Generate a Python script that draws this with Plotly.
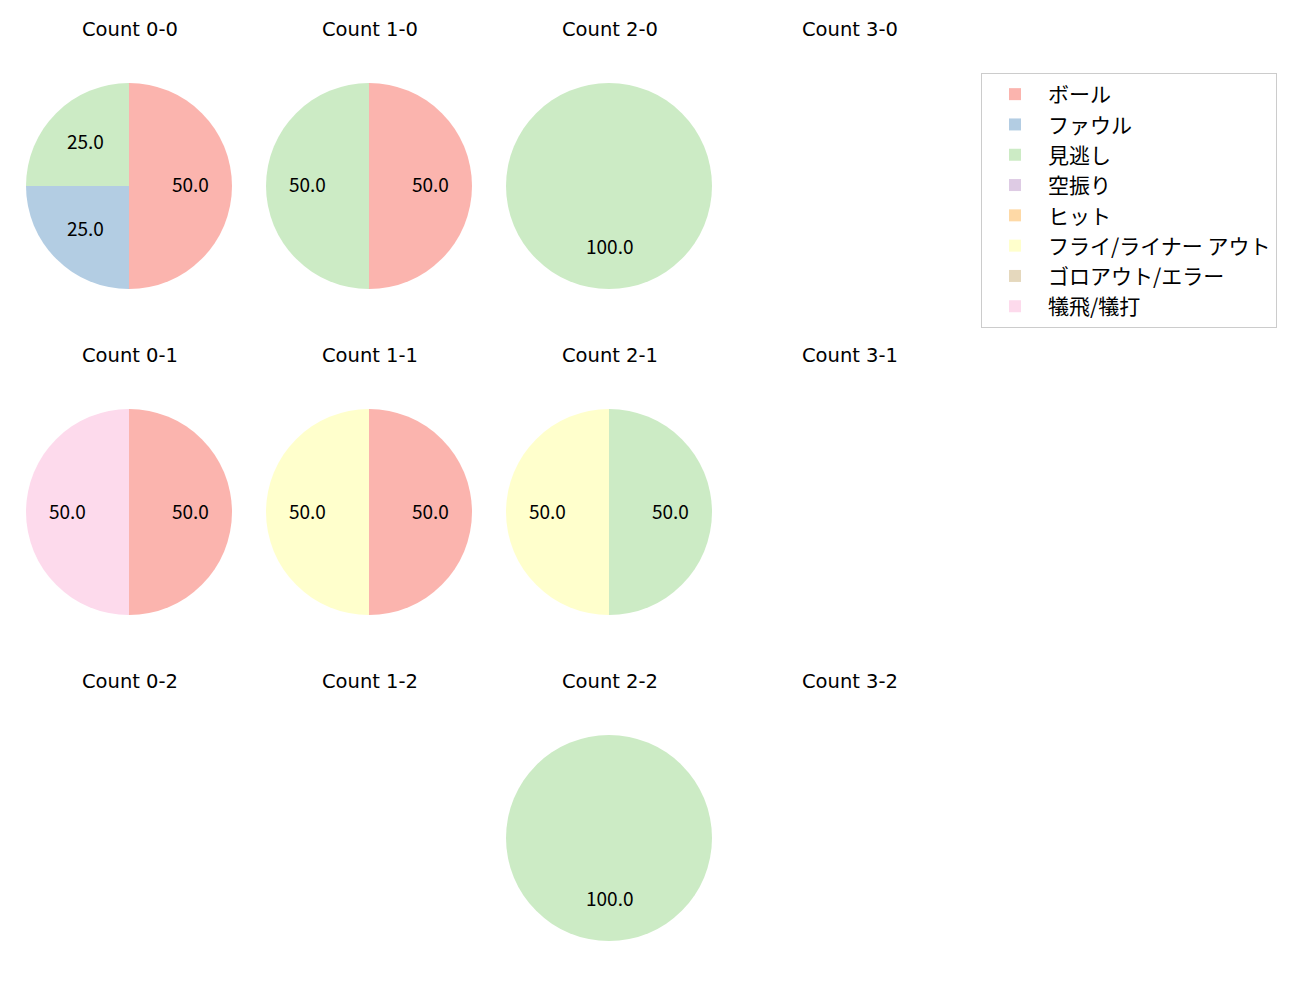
import math
import plotly.graph_objects as go

# ---- data ----
labels = ["ボール", "ファウル", "見逃し", "空振り", "ヒット",
          "フライ/ライナー アウト", "ゴロアウト/エラー", "犠飛/犠打"]
colors = ["#fbb4ae", "#b3cde3", "#ccebc5", "#decbe4", "#fed9a6",
          "#ffffcc", "#e5d8bd", "#fddaec"]

# grid order: rows = strikes 0..2, cols = balls 0..3
count_titles = ["Count 0-0", "Count 1-0", "Count 2-0", "Count 3-0",
                "Count 0-1", "Count 1-1", "Count 2-1", "Count 3-1",
                "Count 0-2", "Count 1-2", "Count 2-2", "Count 3-2"]
# percentage of each result per count (same order as count_titles)
ball        = [50, 50, 0, 0, 50, 50, 0, 0, 0, 0, 0, 0]
foul        = [25, 0, 0, 0, 0, 0, 0, 0, 0, 0, 0, 0]
called_k    = [25, 50, 100, 0, 0, 0, 50, 0, 0, 0, 100, 0]
swing_k     = [0, 0, 0, 0, 0, 0, 0, 0, 0, 0, 0, 0]
hit         = [0, 0, 0, 0, 0, 0, 0, 0, 0, 0, 0, 0]
fly_out     = [0, 0, 0, 0, 0, 50, 50, 0, 0, 0, 0, 0]
ground_out  = [0, 0, 0, 0, 0, 0, 0, 0, 0, 0, 0, 0]
sacrifice   = [0, 0, 0, 0, 50, 0, 0, 0, 0, 0, 0, 0]
series = [ball, foul, called_k, swing_k, hit, fly_out, ground_out, sacrifice]

# ---- layout geometry (pixels) ----
W, H = 1300, 1000
col_cx = [129, 369, 609, 849]
row_cy = [186, 512, 838]
R = 103
title_offset = 157
FONT = "Noto Sans CJK JP"
TITLE_FONT = "DejaVu Sans"

fig = go.Figure()
annotations = []
legend_done = False
for idx, title in enumerate(count_titles):
    r, c = divmod(idx, 4)
    cx, cy = col_cx[c], row_cy[r]
    annotations.append(dict(
        text=title, x=(cx + 0.5) / W, y=1 - (cy - title_offset) / H,
        xref="paper", yref="paper", showarrow=False,
        xanchor="center", yanchor="middle",
        font=dict(size=19.5, color="#000", family=TITLE_FONT)))
    vals = [s[idx] for s in series]
    total = sum(vals)
    if total == 0:
        continue
    fig.add_trace(go.Pie(
        labels=labels, values=vals, sort=False, direction="clockwise",
        rotation=0, marker=dict(colors=colors, line=dict(width=0)),
        textinfo="none", showlegend=not legend_done,
        domain=dict(x=[(cx - R) / W, (cx + R) / W],
                    y=[1 - (cy + R) / H, 1 - (cy - R) / H]),
    ))
    legend_done = True
    cum = 0
    for v in vals:
        if v > 0:
            th = 2 * math.pi * (cum + v / 2) / total
            px = cx + 0.6 * R * math.sin(th)
            py = cy - 0.6 * R * math.cos(th) - 2
            annotations.append(dict(
                text=f"{100 * v / total:.1f}", x=px / W, y=1 - py / H,
                xref="paper", yref="paper", showarrow=False,
                xanchor="center", yanchor="middle",
                font=dict(size=19, color="#000", family=FONT)))
        cum += v

fig.update_layout(
    width=W, height=H, margin=dict(l=0, r=0, t=0, b=0),
    paper_bgcolor="white", plot_bgcolor="white",
    font=dict(family=FONT, color="#000"),
    annotations=annotations,
    legend=dict(x=981 / W, y=1 - 73 / H, xanchor="left", yanchor="top",
                bordercolor="#cccccc", borderwidth=1, bgcolor="white",
                font=dict(size=21, family=FONT, color="#000"),
                itemwidth=56, traceorder="normal"),
)
fig.write_html("out.html")
